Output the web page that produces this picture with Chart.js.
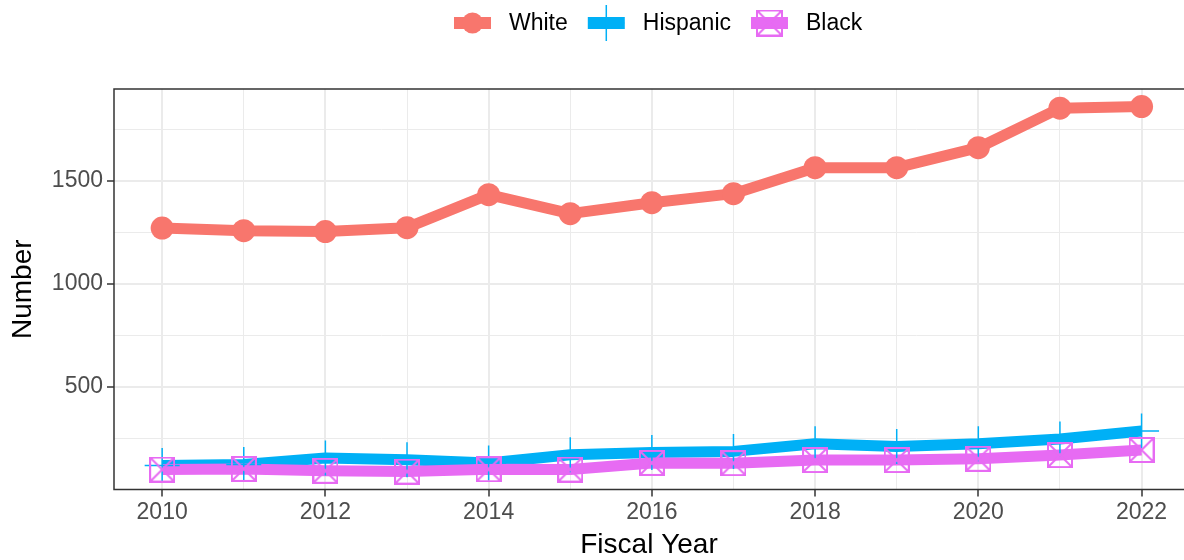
<!DOCTYPE html>
<html>
<head>
<meta charset="utf-8">
<script src="https://cdn.jsdelivr.net/npm/chart.js@4.4.0/dist/chart.umd.min.js"></script>
<style>
  html, body { margin: 0; padding: 0; background: #fff; }
  #wrap { width: 1184px; height: 560px; }
</style>
</head>
<body>
<div id="wrap"><canvas id="myChart" width="1184" height="560"></canvas></div>
<script>
const years = [2010, 2011, 2012, 2013, 2014, 2015, 2016, 2017, 2018, 2019, 2020, 2021, 2022];
const white = [1270, 1257, 1253, 1272, 1432, 1340, 1393, 1437, 1563, 1563, 1660, 1852, 1860];
const hispanic = [118, 122, 154, 146, 130, 170, 180, 186, 223, 210, 223, 246, 285];
const black = [98, 101, 92, 88, 99, 98, 130, 129, 144, 144, 150, 168, 193];
const yTicks = [250, 500, 750, 1000, 1250, 1500, 1750];
const yLabels = [500, 1000, 1500];
const xLabels = [2010, 2012, 2014, 2016, 2018, 2020, 2022];

const RED = '#F8766D';
const BLUE = '#00B0F6';
const PINK = '#E76BF3';
const FONT = '"Liberation Sans", Arial, sans-serif';

// square with an X, like ggplot shape 7
function squareCross(size, color) {
    const c = document.createElement('canvas');
    c.width = size;
    c.height = size;
    const g = c.getContext('2d');
    g.strokeStyle = color;
    g.lineWidth = 2;
    g.strokeRect(1, 1, size - 2, size - 2);
    g.beginPath();
    g.moveTo(1, 1); g.lineTo(size - 1, size - 1);
    g.moveTo(size - 1, 1); g.lineTo(1, size - 1);
    g.stroke();
    return c;
}
const blackMark = squareCross(26, PINK);

function pts(vals) {
    return vals.map((v, i) => ({ x: years[i], y: v }));
}

function lineSet(label, vals, color, order) {
    return {
        label: label, data: pts(vals), borderColor: color, backgroundColor: color,
        borderWidth: 11, pointRadius: 0, tension: 0, order: order,
        borderJoinStyle: 'round', borderCapStyle: 'butt'
    };
}

const legendItems = [
    { text: 'White', color: RED, mark: 'circle' },
    { text: 'Hispanic', color: BLUE, mark: 'cross' },
    { text: 'Black', color: PINK, mark: 'square' }
];

const legendPlugin = {
    id: 'ggLegend',
    afterDraw(chart) {
        const ctx = chart.ctx;
        ctx.save();
        ctx.font = '23px ' + FONT;
        ctx.textBaseline = 'middle';
        const y = 23;
        let x = 454;
        legendItems.forEach(item => {
            ctx.strokeStyle = item.color;
            ctx.lineWidth = 12;
            ctx.beginPath();
            ctx.moveTo(x, y); ctx.lineTo(x + 37, y);
            ctx.stroke();
            const cx = x + 18.5;
            if (item.mark === 'circle') {
                ctx.fillStyle = item.color;
                ctx.beginPath();
                ctx.arc(cx, y, 10.5, 0, Math.PI * 2);
                ctx.fill();
            } else if (item.mark === 'cross') {
                ctx.lineWidth = 1.5;
                ctx.beginPath();
                ctx.moveTo(cx, y - 18); ctx.lineTo(cx, y + 18);
                ctx.moveTo(cx - 18, y); ctx.lineTo(cx + 18, y);
                ctx.stroke();
            } else {
                ctx.drawImage(squareCross(27, item.color), cx - 13.5, y - 13.5);
            }
            ctx.fillStyle = '#000';
            ctx.fillText(item.text, x + 55, y + 1);
            x += 55 + ctx.measureText(item.text).width + 20;
        });
        ctx.restore();
    }
};

const borderPlugin = {
    id: 'panelBorder',
    afterDatasetsDraw(chart) {
        const a = chart.chartArea;
        const ctx = chart.ctx;
        ctx.save();
        ctx.strokeStyle = '#333333';
        ctx.lineWidth = 1.5;
        ctx.beginPath();
        ctx.moveTo(a.right + 10, a.top);
        ctx.lineTo(a.left, a.top);
        ctx.lineTo(a.left, a.bottom);
        ctx.lineTo(a.right + 10, a.bottom);
        ctx.stroke();
        ctx.restore();
    }
};

const ctx = document.getElementById('myChart').getContext('2d');
const chart = new Chart(ctx, {
    type: 'line',
    data: {
        datasets: [
            lineSet('White', white, RED, 10),
            lineSet('Hispanic', hispanic, BLUE, 9),
            lineSet('Black', black, PINK, 8),
            { label: 'White pts', data: pts(white), showLine: false, order: 3,
              pointStyle: 'circle', pointRadius: 11.5, pointBackgroundColor: RED, pointBorderWidth: 0 },
            { label: 'Hispanic pts', data: pts(hispanic), showLine: false, order: 2,
              pointStyle: 'cross', pointRadius: 17.5, pointBorderColor: BLUE, pointBorderWidth: 1.5 },
            { label: 'Black pts', data: pts(black), showLine: false, order: 1,
              pointStyle: blackMark, pointRadius: 13 }
        ]
    },
    options: {
        responsive: false,
        animation: false,
        layout: { autoPadding: false, padding: { top: 89, right: 0, left: 0, bottom: 0 } },
        plugins: { legend: { display: false }, tooltip: { enabled: false } },
        scales: {
            x: {
                type: 'linear',
                min: 2009.41,
                max: 2022.52,
                afterFit: s => { s.height = 70.5; s.paddingLeft = 0; s.paddingRight = 0; },
                afterBuildTicks: s => { s.ticks = years.map(v => ({ value: v })); },
                border: { display: false },
                grid: {
                    color: '#EBEBEB',
                    lineWidth: c => (c.tick && xLabels.includes(c.tick.value)) ? 2 : 1,
                    tickColor: c => (c.tick && xLabels.includes(c.tick.value)) ? '#333333' : 'rgba(0,0,0,0)',
                    tickLength: 7,
                    tickWidth: 1.5
                },
                ticks: {
                    autoSkip: false,
                    maxRotation: 0,
                    padding: 2,
                    color: '#4D4D4D',
                    font: { family: FONT, size: 23 },
                    callback: v => xLabels.includes(v) ? String(v) : ''
                },
                title: {
                    display: true, text: 'Fiscal Year', color: '#000',
                    font: { family: FONT, size: 28, lineHeight: 1 },
                    padding: { top: 0, bottom: 1 }
                }
            },
            y: {
                min: 1,
                max: 1945,
                afterFit: s => { s.width = 114; s.paddingTop = 0; s.paddingBottom = 0; },
                afterBuildTicks: s => { s.ticks = yTicks.map(v => ({ value: v })); },
                border: { display: false },
                grid: {
                    color: '#EBEBEB',
                    lineWidth: c => (c.tick && yLabels.includes(c.tick.value)) ? 2 : 1,
                    tickColor: c => (c.tick && yLabels.includes(c.tick.value)) ? '#333333' : 'rgba(0,0,0,0)',
                    tickLength: 7,
                    tickWidth: 1.5
                },
                ticks: {
                    padding: 4,
                    color: '#4D4D4D',
                    font: { family: FONT, size: 23 },
                    callback: v => yLabels.includes(v) ? String(v) : ''
                },
                title: {
                    display: true, text: 'Number', color: '#000',
                    font: { family: FONT, size: 28, lineHeight: 1.2 },
                    padding: { top: 6, bottom: 0 }
                }
            }
        }
    },
    plugins: [legendPlugin, borderPlugin]
});
</script>
</body>
</html>
